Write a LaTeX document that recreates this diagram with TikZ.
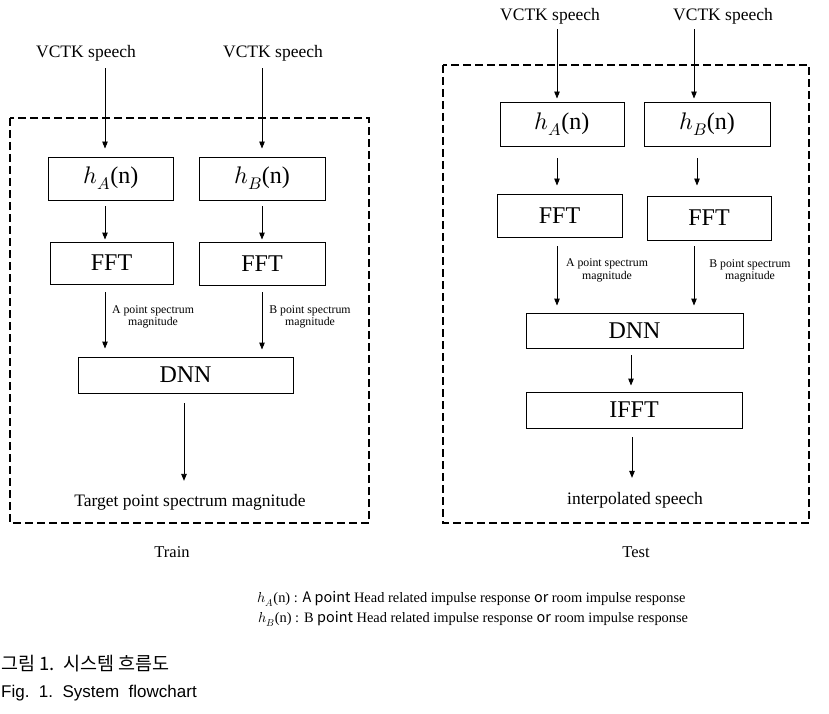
\documentclass[tikz,border=0pt]{standalone}
\usepackage{fontspec}
\usepackage{unicode-math}
\setmainfont{Liberation Serif}
\setmathfont{Latin Modern Math}
\newfontfamily\krfont{Noto Sans CJK KR}
\newfontfamily\arialf{Liberation Sans}
\usetikzlibrary{arrows.meta}
\begin{document}
\begin{tikzpicture}[x=1pt,y=-1pt,
 box/.style={draw,line width=0.9pt,inner sep=0pt,font=\fontsize{24}{28}\selectfont},
 arr/.style={draw,line width=0.9pt,-{Triangle[length=7pt,width=5.5pt]}},
 lbl/.style={inner sep=0pt,font=\fontsize{17.5}{20}\selectfont},
 small/.style={inner sep=0pt,align=center,font=\fontsize{11.8}{12.5}\selectfont},
 legend/.style={inner sep=0pt,anchor=west,font=\fontsize{14.4}{18}\selectfont},
 caption/.style={inner sep=0pt,anchor=west},
 frame/.style={draw,line width=2.4pt,dash pattern=on 8pt off 4pt}]
\useasboundingbox (0,0) rectangle (829,714);

% ---------- Train ----------
\draw[frame] (10,118) rectangle (369,523);
\node[lbl] (vA) at (86,53) {VCTK speech};
\node[lbl] (vB) at (273,53) {VCTK speech};
\node[box,minimum width=125pt,minimum height=43pt] (hA) at (111,178.5) {$h_A$(n)};
\node[box,minimum width=126pt,minimum height=43pt] (hB) at (262,178.5) {$h_B$(n)};
\node[box,minimum width=123pt,minimum height=42pt] (fA) at (111.5,263) {FFT};
\node[box,minimum width=126pt,minimum height=43pt] (fB) at (262,263.5) {FFT};
\node[box,minimum width=215pt,minimum height=36pt] (dT) at (185.5,375) {DNN};
\node[small] (sA) at (153,317) {A point spectrum\\magnitude};
\node[small] (sB) at (310,317) {B point spectrum\\magnitude};
\node[lbl] (tgt) at (190,502) {Target point spectrum magnitude};
\node[lbl,font=\fontsize{16.5}{19}\selectfont] (train) at (172,552) {Train};

\draw[arr,shorten <=7pt] ([xshift=19pt]vA.south) -- ([xshift=-6pt,yshift=8pt]hA.north);
\draw[arr,shorten <=7pt] ([xshift=-11pt]vB.south) -- ([yshift=8pt]hB.north);
\draw[arr] ([xshift=-6pt,yshift=-6pt]hA.south) -- ([xshift=-6.5pt,yshift=2pt]fA.north);
\draw[arr] ([yshift=-6pt]hB.south) -- ([yshift=2pt]fB.north);
\draw[arr] ([xshift=-6.5pt,yshift=-8pt]fA.south) -- ([xshift=-80.5pt,yshift=8pt]dT.north);
\draw[arr] ([yshift=-7pt]fB.south) -- ([xshift=76.5pt,yshift=7pt]dT.north);
\draw[arr] ([xshift=-1.5pt,yshift=-10pt]dT.south) -- ([xshift=-6pt,yshift=13pt]tgt.north);

% ---------- Test ----------
\draw[frame] (443,65) rectangle (809,523);
\node[lbl] (wA) at (550,16) {VCTK speech};
\node[lbl] (wB) at (723,16) {VCTK speech};
\node[box,minimum width=124pt,minimum height=44pt] (gA) at (562,124) {$h_A$(n)};
\node[box,minimum width=126pt,minimum height=44pt] (gB) at (707,124) {$h_B$(n)};
\node[box,minimum width=125pt,minimum height=43pt] (eA) at (559.5,215.5) {FFT};
\node[box,minimum width=124pt,minimum height=44pt] (eB) at (709,218) {FFT};
\node[box,minimum width=217pt,minimum height=35pt] (d2) at (634.5,330.5) {DNN};
\node[box,minimum width=216pt,minimum height=36pt] (iF) at (634,410) {IFFT};
\node[small] (tA) at (607,270.5) {A point spectrum\\magnitude};
\node[small] (tB) at (750,271) {B point spectrum\\magnitude};
\node[lbl] (out) at (635,500) {interpolated speech};
\node[lbl,font=\fontsize{16.5}{19}\selectfont] (test) at (636,552) {Test};

\draw[arr,shorten <=5pt] ([xshift=7pt]wA.south) -- ([xshift=-5pt,yshift=3pt]gA.north);
\draw[arr,shorten <=5pt] ([xshift=-29pt]wB.south) -- ([xshift=-13pt,yshift=3pt]gB.north);
\draw[arr] ([xshift=-5pt,yshift=-12pt]gA.south) -- ([xshift=-2.5pt,yshift=8pt]eA.north);
\draw[arr] ([xshift=-10pt,yshift=-12pt]gB.south) -- ([xshift=-12pt,yshift=10pt]eB.north);
\draw[arr] ([xshift=-2.5pt,yshift=-9pt]eA.south) -- ([xshift=-77.5pt,yshift=7pt]d2.north);
\draw[arr] ([xshift=-15pt,yshift=-6pt]eB.south) -- ([xshift=59.5pt,yshift=7pt]d2.north);
\draw[arr] ([xshift=-3.5pt,yshift=-7pt]d2.south) -- ([xshift=-3pt,yshift=6pt]iF.north);
\draw[arr] ([xshift=-2pt,yshift=-9pt]iF.south) -- ([xshift=-3pt,yshift=14pt]out.north);

% ---------- Legend & caption ----------
\node[legend] (l1) at (257,599) {$h_A$(n) : {\krfont A point} Head related impulse response {\krfont or} room impulse response};
\node[legend] (l2) at (258,619) {$h_B$(n) : B {\krfont point} Head related impulse response {\krfont or} room impulse response};
\node[caption,font=\krfont\fontsize{18.5}{22}\selectfont] (c1) at (1,664) {그림 1.\ \ 시스템 흐름도};
\node[caption,font=\arialf\fontsize{17}{20}\selectfont] (c2) at (1,693) {Fig.~~1.~~System~~flowchart};
\end{tikzpicture}
\end{document}
